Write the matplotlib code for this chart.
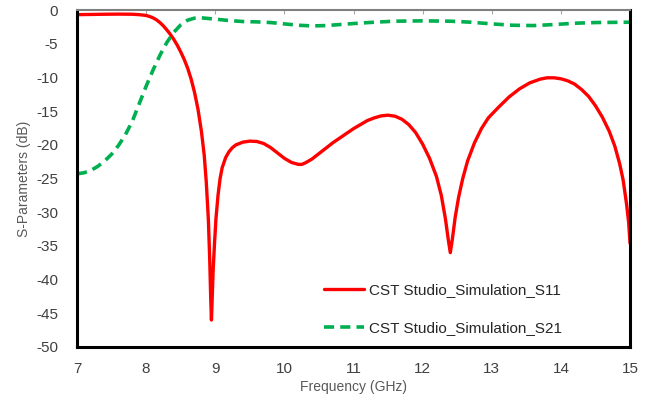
import matplotlib
matplotlib.use("Agg")
import matplotlib.pyplot as plt

plt.rcParams['font.family'] = ['Liberation Sans', 'DejaVu Sans']

freq_s11 = [7.0, 7.2, 7.4, 7.6, 7.8, 7.9, 8.0, 8.05, 8.1, 8.15, 8.2, 8.25, 8.3, 8.35,
            8.4, 8.45, 8.5, 8.55, 8.6, 8.65, 8.7, 8.75, 8.8, 8.84, 8.87, 8.9, 8.92,
            8.935, 8.945, 8.955, 8.97, 8.99, 9.01, 9.04, 9.07, 9.1, 9.15, 9.2, 9.25,
            9.3, 9.4, 9.5, 9.6, 9.7, 9.8, 9.9, 10.0, 10.1, 10.2, 10.25, 10.3, 10.4,
            10.5, 10.6, 10.7, 10.8, 10.9, 11.0, 11.1, 11.2, 11.3, 11.4, 11.5, 11.6,
            11.7, 11.8, 11.9, 12.0, 12.1, 12.2, 12.27, 12.33, 12.37, 12.4, 12.43,
            12.47, 12.52, 12.58, 12.65, 12.75, 12.85, 12.95, 13.1, 13.25, 13.4, 13.55,
            13.7, 13.8, 13.9, 14.0, 14.1, 14.2, 14.3, 14.4, 14.5, 14.6, 14.7, 14.78,
            14.85, 14.9, 14.95, 14.98, 15.0]
s11 = [-0.68, -0.65, -0.62, -0.6, -0.62, -0.68, -0.8, -0.95, -1.15, -1.45, -1.85,
       -2.35, -2.95, -3.6, -4.35, -5.2, -6.2, -7.3, -8.6, -10.2, -12.2, -14.7, -18.0,
       -21.5, -25.5, -31.0, -37.0, -43.0, -46.0, -43.0, -38.5, -34.5, -31.0, -27.5,
       -25.0, -23.4, -21.9, -21.0, -20.4, -20.0, -19.6, -19.45, -19.5, -19.8, -20.4,
       -21.2, -22.0, -22.6, -22.9, -22.9, -22.7, -22.1, -21.3, -20.5, -19.7, -19.0,
       -18.3, -17.6, -17.0, -16.4, -16.0, -15.7, -15.6, -15.75, -16.2, -17.0, -18.2,
       -19.9, -22.0, -24.7, -27.5, -31.0, -34.0, -36.0, -34.0, -30.8, -27.8, -25.0,
       -22.4, -19.7, -17.6, -16.0, -14.4, -12.9, -11.7, -10.8, -10.25, -10.05, -10.05,
       -10.2, -10.5, -11.0, -11.8, -12.8, -14.2, -15.9, -18.0, -20.2, -22.8, -25.2,
       -28.8, -31.5, -34.6]

freq_s21 = [7.0, 7.1, 7.2, 7.3, 7.4, 7.5, 7.6, 7.7, 7.8, 7.9, 8.0, 8.1, 8.2, 8.3,
            8.4, 8.5, 8.6, 8.7, 8.8, 8.9, 9.0, 9.2, 9.4, 9.6, 9.8, 10.0, 10.2, 10.4,
            10.6, 10.8, 11.0, 11.3, 11.6, 12.0, 12.4, 12.7, 13.0, 13.3, 13.6, 13.9,
            14.2, 14.5, 15.0]
s21 = [-24.3, -24.15, -23.8, -23.2, -22.4, -21.4, -20.1, -18.5, -16.5, -13.9, -11.3,
       -8.9, -6.7, -4.8, -3.3, -2.2, -1.5, -1.2, -1.15, -1.25, -1.35, -1.55, -1.7,
       -1.75, -1.85, -2.05, -2.25, -2.35, -2.3, -2.15, -2.0, -1.8, -1.65, -1.6, -1.65,
       -1.8, -2.05, -2.25, -2.3, -2.15, -1.95, -1.85, -1.8]

labels = ["CST Studio_Simulation_S11", "CST Studio_Simulation_S21"]
x_ticks = [7, 8, 9, 10, 11, 12, 13, 14, 15]
y_ticks = [0, -5, -10, -15, -20, -25, -30, -35, -40, -45, -50]

fig = plt.figure(figsize=(6.62, 4.03), dpi=100)
ax = fig.add_axes([0.1163, 0.139, 0.8354, 0.836])

ax.plot(freq_s11, s11, color='#FF0000', lw=2.4, label=labels[0],
        solid_capstyle='round', solid_joinstyle='round')
ax.plot(freq_s21, s21, color='#00B050', lw=2.6, ls=(0, (2.8, 1.7)), label=labels[1],
        dash_joinstyle='round')

ax.set_xlim(7, 15)
ax.set_ylim(-50, 0)
ax.set_xticks(x_ticks)
ax.set_yticks(y_ticks)
ax.set_xticklabels([str(v) for v in x_ticks])
ax.set_yticklabels([str(v) for v in y_ticks])

ax.tick_params(axis='x', top=True, bottom=False, direction='in', length=3,
               color='#A6A6A6', labelsize=11, labelcolor='#404040', pad=11)
ax.tick_params(axis='y', left=False, labelsize=11, labelcolor='#404040', pad=10)

for side in ['left', 'bottom', 'right']:
    ax.spines[side].set_color('black')
    ax.spines[side].set_linewidth(2.2)
ax.spines['top'].set_color('#808080')
ax.spines['top'].set_linewidth(1.5)

ax.set_xlabel("Frequency (GHz)", fontsize=10, color='#595959', labelpad=3)
ax.set_ylabel("S-Parameters (dB)", fontsize=10, color='#595959', labelpad=4)

leg = ax.legend(loc='lower left', bbox_to_anchor=(0.447, 0.035), frameon=False,
                fontsize=11, handlelength=2.6, handletextpad=0.3,
                labelspacing=1.55, borderpad=0, borderaxespad=0)
for t in leg.get_texts():
    t.set_color('#262626')

fig.savefig("out.png", dpi=100)
